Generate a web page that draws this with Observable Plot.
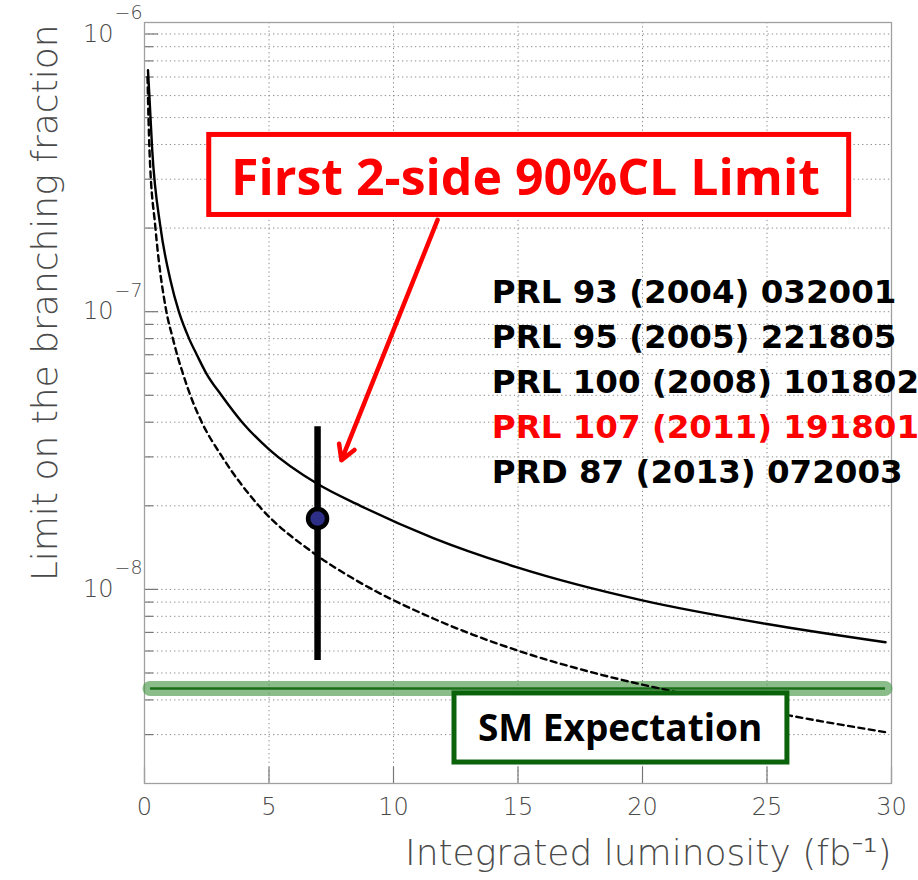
<!DOCTYPE html>
<html>
<head>
<meta charset="utf-8">
<script src="https://cdn.jsdelivr.net/npm/d3@7"></script>
<script src="https://cdn.jsdelivr.net/npm/@observablehq/plot@0.6"></script>
<style>
  body { margin: 0; background: #fff; }
  #chart svg { display: block; }
</style>
</head>
<body>
<div id="chart"></div>
<script>
// Upper limit vs. integrated luminosity (solid curve)
const solidLumi  = [0.14, 0.2, 0.31, 0.64, 1.04, 1.38, 1.79, 2.1, 2.48, 3.09, 3.92, 4.99, 6.94, 8.67, 11.6, 14.97, 19.99, 24.94, 29.76];
const solidLimit = [7.4e-7, 5.9e-7, 3.82e-7, 2.02e-7, 1.30e-7, 1.0e-7, 8.0e-8, 7.0e-8, 6.0e-8, 5.0e-8, 4.0e-8, 3.2e-8, 2.4e-8, 2.0e-8, 1.53e-8, 1.20e-8, 9.13e-9, 7.52e-9, 6.45e-9];

// Second projection (dashed curve)
const dashedLumi  = [0.12, 0.2, 0.44, 0.88, 1.14, 1.31, 1.54, 1.84, 2.3, 3.12, 4.59, 6.8, 8.41, 11.62, 14.97, 18.18, 21.39, 25.94, 29.76];
const dashedLimit = [7.0e-7, 3.82e-7, 2.0e-7, 1.0e-7, 8.0e-8, 7.0e-8, 6.0e-8, 5.0e-8, 4.0e-8, 3.0e-8, 2.0e-8, 1.35e-8, 1.09e-8, 7.84e-9, 6.03e-9, 4.97e-9, 4.26e-9, 3.51e-9, 3.06e-9];

// Standard Model expectation and its extent along x
const smValue = 4.4e-9;
const smLumiRange = [0.24, 29.76];

// Two-sided 90% CL measurement
const measLumi = 6.95;
const measValue = 1.8e-8;
const measLow = 5.55e-9;
const measHigh = 3.85e-8;

// Axis ticks
const xTicks = [0, 5, 10, 15, 20, 25, 30];
const xGrid = [5, 10, 15, 20, 25];
const yDecades = [1e-6, 1e-7, 1e-8];
const yExponents = ["−6", "−7", "−8"];

// Publications
const references = [
  "PRL 93 (2004) 032001",
  "PRL 95 (2005) 221805",
  "PRL 100 (2008) 101802",
  "PRL 107 (2011) 191801",
  "PRD 87 (2013) 072003"
];
const referenceHighlight = [false, false, false, true, false];

const calloutText = "First 2-side 90%CL Limit";
const smText = "SM Expectation";
const xLabel = "Integrated luminosity (fb⁻¹)";
const yLabel = "Limit on the branching fraction";

// ---- layout ----
const W = 918, H = 880;
const M = {top: 22, right: 27, bottom: 97, left: 144};
const plotW = W - M.left - M.right;
const plotH = H - M.top - M.bottom;

const yDomain = [2e-9, 1.1e-6];
const minorGrid = [];
for (let e = -9; e <= -6; e++) {
  for (let m = 1; m <= 9; m++) {
    const v = m * Math.pow(10, e);
    if (v > yDomain[0] * 1.01 && v < yDomain[1]) minorGrid.push(v);
  }
}
const minorTicks = minorGrid.filter(v => !yDecades.includes(v));

const solid = solidLumi.map((x, i) => ({x, y: solidLimit[i]}));
const dashed = dashedLumi.map((x, i) => ({x, y: dashedLimit[i]}));
const meas = [{x: measLumi, y: measValue, lo: measLow, hi: measHigh}];

// annotation placement (data coordinates)
const callout = {x1: 2.6, x2: 28.3, y1: 2.23e-7, y2: 4.33e-7, tx: 15.3, ty: 3.0e-7};
const arrow = {x1: 11.77, y1: 2.14e-7, x2: 7.91, y2: 2.92e-8};
const smBox = {x1: 12.45, x2: 25.82, y1: 2.38e-9, y2: 4.22e-9, tx: 19.1, ty: 3.14e-9};
const refX = 13.95, refTop = 1.17e-7, refStep = Math.pow(10, -45 / 277.5);
const refs = references.map((t, i) => ({t, hl: referenceHighlight[i], y: refTop * Math.pow(refStep, i)}));

const axisFont = "'DejaVu Sans', 'Noto Sans', sans-serif";
const boldFont = "'Open Sans', 'Noto Sans', sans-serif";
const refFont = "'DejaVu Sans', sans-serif";
const gridStyle = {stroke: "#8a8a8a", strokeWidth: 1, strokeDasharray: "1.3,3"};
const axisInk = "#4a4a4a";

const chart = Plot.plot({
  width: W, height: H,
  marginTop: M.top, marginRight: M.right, marginBottom: M.bottom, marginLeft: M.left,
  x: {domain: [0, 30], axis: null},
  y: {type: "log", domain: yDomain, axis: null},
  style: {background: "#fff", fontFamily: axisFont, overflow: "visible"},
  marks: [
    // grid
    Plot.ruleY(minorGrid, {y: d => d, ...gridStyle}),
    Plot.ruleX(xGrid, {x: d => d, ...gridStyle}),
    // tick marks
    Plot.ruleY(yDecades, {y: d => d, stroke: "#777", strokeWidth: 1.2, insetRight: plotW - 14}),
    Plot.ruleY(minorTicks, {y: d => d, stroke: "#777", strokeWidth: 1.2, insetRight: plotW - 9}),
    Plot.ruleX(xTicks, {x: d => d, stroke: "#777", strokeWidth: 1.2, insetTop: plotH - 16}),
    Plot.frame({stroke: "#a0a0a0", strokeWidth: 1.3}),

    // Standard Model line with soft glow
    Plot.ruleY([smValue], {y: d => d, x1: () => smLumiRange[0], x2: () => smLumiRange[1],
      stroke: "#4c9a4c", strokeOpacity: 0.65, strokeWidth: 15, strokeLinecap: "round", ariaLabel: "sm-glow"}),
    Plot.ruleY([smValue], {y: d => d, x1: () => smLumiRange[0], x2: () => smLumiRange[1],
      stroke: "#1a6e1a", strokeWidth: 2.5}),

    // projections
    Plot.line(dashed, {x: "x", y: "y", stroke: "#000", strokeWidth: 2.4, strokeDasharray: "6,4.5", curve: "monotone-x"}),
    Plot.line(solid, {x: "x", y: "y", stroke: "#000", strokeWidth: 2.4, curve: "monotone-x"}),

    // measurement
    Plot.ruleX(meas, {x: "x", y1: "lo", y2: "hi", stroke: "#000", strokeWidth: 6.5}),
    Plot.dot(meas, {x: "x", y: "y", r: 9.5, fill: "#2c2f85", stroke: "#000", strokeWidth: 4.5}),

    // callout
    Plot.rect([callout], {x1: "x1", x2: "x2", y1: "y1", y2: "y2", fill: "#fff", stroke: "#ff0000", strokeWidth: 5}),
    Plot.text([callout], {x: "tx", y: "ty", text: () => calloutText, fill: "#ff0000",
      fontSize: 50, fontWeight: 700, fontFamily: boldFont}),
    Plot.arrow([arrow], {x1: "x1", y1: "y1", x2: "x2", y2: "y2", stroke: "#ff0000", strokeWidth: 4.5, headLength: 5.5, headAngle: 60}),

    // publications
    Plot.text(refs, {x: () => refX, y: "y", text: "t", textAnchor: "start",
      fill: d => d.hl ? "#ff0000" : "#000", fontSize: 32.5, fontWeight: 700, fontFamily: refFont}),

    // SM label
    Plot.rect([smBox], {x1: "x1", x2: "x2", y1: "y1", y2: "y2", fill: "#fff", stroke: "#0a620a", strokeWidth: 5}),
    Plot.text([smBox], {x: "tx", y: "ty", text: () => smText, fill: "#000",
      fontSize: 37, fontWeight: 700, fontFamily: boldFont}),

    // axis labels
    Plot.text(yDecades, {y: d => d, text: () => "10", frameAnchor: "left", textAnchor: "end",
      dx: -31, fill: axisInk, fontSize: 24, fontWeight: 200}),
    Plot.text(yDecades, {y: d => d, text: (d, i) => yExponents[i], frameAnchor: "left", textAnchor: "start",
      dx: -30, dy: -21, fill: axisInk, fontSize: 19, fontWeight: 200}),
    Plot.text(xTicks, {x: d => d, text: d => String(d), frameAnchor: "bottom", dy: 31,
      fill: axisInk, fontSize: 24, fontWeight: 200}),
    Plot.text([xLabel], {text: d => d, frameAnchor: "bottom-right", textAnchor: "end", dy: 81,
      fill: axisInk, fontSize: 36, fontWeight: 200}),
    Plot.text([yLabel], {text: d => d, frameAnchor: "top-left", textAnchor: "end", rotate: -90,
      dx: -113, dy: 2, fill: axisInk, fontSize: 36, fontWeight: 200})
  ]
});

// blur filter for the Standard Model glow
const svg = d3.select(chart.tagName === "svg" ? chart : chart.querySelector("svg"));
const defs = svg.insert("defs", ":first-child");
defs.append("filter")
  .attr("id", "sm-blur")
  .attr("filterUnits", "userSpaceOnUse")
  .attr("x", 0).attr("y", 0).attr("width", W).attr("height", H)
  .append("feGaussianBlur").attr("stdDeviation", 5.5);
svg.selectAll('g[aria-label="sm-glow"]').attr("filter", "url(#sm-blur)");

document.getElementById("chart").append(chart);
</script>
</body>
</html>
